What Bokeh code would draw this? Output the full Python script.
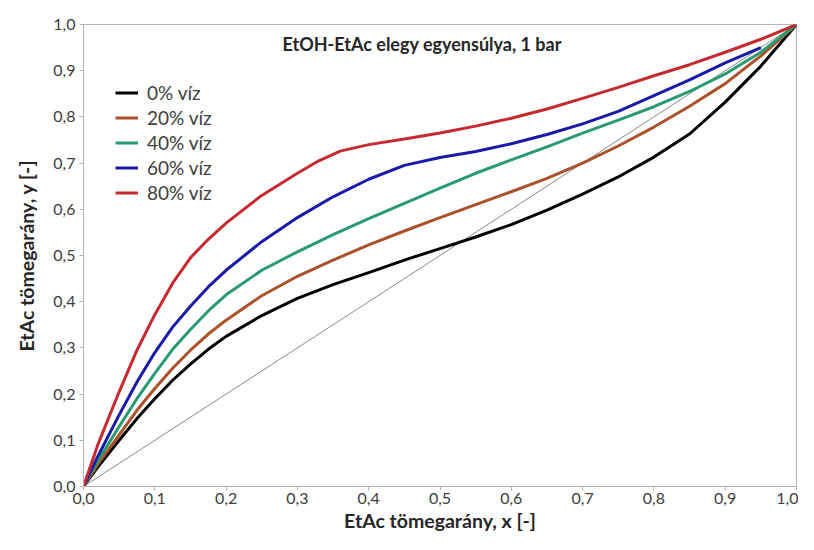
from bokeh.plotting import figure
from bokeh.models import Range1d, FixedTicker, Legend, LegendItem, Label
from bokeh.embed import file_html
from bokeh.resources import INLINE

# ---- data ----
X_STD = [0, 0.02, 0.05, 0.075, 0.1, 0.125, 0.15, 0.175, 0.2, 0.25, 0.3, 0.35, 0.4, 0.45, 0.5,
         0.55, 0.6, 0.65, 0.7, 0.75, 0.8, 0.85, 0.9, 0.95, 1.0]
Y_0 = [0, 0.042, 0.10, 0.147, 0.19, 0.23, 0.265, 0.297, 0.325, 0.37, 0.407, 0.437, 0.463, 0.49, 0.515,
       0.54, 0.567, 0.598, 0.633, 0.67, 0.713, 0.763, 0.832, 0.91, 1.0]
Y_20 = [0, 0.048, 0.112, 0.165, 0.212, 0.256, 0.295, 0.33, 0.36, 0.413, 0.455, 0.49, 0.523, 0.553, 0.582,
        0.61, 0.638, 0.667, 0.70, 0.737, 0.778, 0.823, 0.872, 0.932, 1.0]
Y_40 = [0, 0.055, 0.13, 0.19, 0.245, 0.297, 0.34, 0.38, 0.415, 0.468, 0.508, 0.545, 0.58, 0.613, 0.646,
        0.678, 0.707, 0.735, 0.765, 0.793, 0.822, 0.855, 0.893, 0.94, 1.0]
X_60 = [0, 0.02, 0.05, 0.075, 0.1, 0.125, 0.15, 0.175, 0.2, 0.25, 0.3, 0.35, 0.4, 0.45, 0.5,
        0.55, 0.6, 0.65, 0.7, 0.75, 0.8, 0.85, 0.9, 0.95]
Y_60 = [0, 0.065, 0.155, 0.226, 0.29, 0.345, 0.39, 0.432, 0.468, 0.53, 0.582, 0.627, 0.665, 0.695, 0.712,
        0.725, 0.742, 0.762, 0.785, 0.812, 0.846, 0.88, 0.917, 0.95]
X_80 = [0, 0.02, 0.05, 0.075, 0.1, 0.125, 0.15, 0.175, 0.2, 0.25, 0.3, 0.33, 0.36, 0.4, 0.45, 0.5,
        0.55, 0.6, 0.65, 0.7, 0.75, 0.8, 0.85, 0.9, 0.95, 1.0]
Y_80 = [0, 0.09, 0.205, 0.295, 0.372, 0.44, 0.495, 0.535, 0.57, 0.63, 0.678, 0.705, 0.726, 0.74, 0.752, 0.765,
        0.78, 0.797, 0.817, 0.84, 0.864, 0.889, 0.913, 0.94, 0.968, 1.0]
DIAG_X = [0, 1]
DIAG_Y = [0, 1]

SERIES_NAMES = ["0% víz", "20% víz", "40% víz", "60% víz", "80% víz"]
SERIES_COLORS = ["#000000", "#a9522b", "#2a9a70", "#1a1aa8", "#c62a30"]

TICK_VALUES = [0.0, 0.1, 0.2, 0.3, 0.4, 0.5, 0.6, 0.7, 0.8, 0.9, 1.0]
TICK_LABELS = ["0,0", "0,1", "0,2", "0,3", "0,4", "0,5", "0,6", "0,7", "0,8", "0,9", "1,0"]

TITLE = "EtOH-EtAc elegy egyensúlya, 1 bar"
X_LABEL = "EtAc tömegarány, x [-]"
Y_LABEL = "EtAc tömegarány, y [-]"

FONT = "Lato"
TXT = "#404040"

p = figure(width=798, height=534, output_backend="svg", toolbar_location=None,
           x_range=Range1d(0, 1), y_range=Range1d(0, 1),
           min_border_left=83, min_border_right=2, min_border_top=24, min_border_bottom=48)
p.background_fill_color = "white"
p.border_fill_color = "white"
p.outline_line_color = "#b4b4b4"
p.outline_line_width = 1
p.xgrid.visible = False
p.ygrid.visible = False

for ax, lab in ((p.xaxis[0], X_LABEL), (p.yaxis[0], Y_LABEL)):
    ax.ticker = FixedTicker(ticks=TICK_VALUES)
    ax.major_label_overrides = {v: l for v, l in zip(TICK_VALUES, TICK_LABELS)}
    ax.minor_tick_line_color = None
    ax.major_tick_in = 0
    ax.major_tick_out = 4
    ax.major_tick_line_color = "#b4b4b4"
    ax.axis_line_color = "#b4b4b4"
    ax.major_label_text_font = FONT
    ax.major_label_text_font_size = "16px"
    ax.major_label_text_color = TXT
    ax.axis_label = lab
    ax.axis_label_text_font = FONT
    ax.axis_label_text_font_size = "19.5px"
    ax.axis_label_text_font_style = "bold"
    ax.axis_label_text_color = "#262626"
p.xaxis[0].major_label_standoff = 2
p.xaxis[0].axis_label_standoff = 2
p.yaxis[0].major_label_standoff = 4
p.yaxis[0].axis_label_standoff = 12

p.line(DIAG_X, DIAG_Y, line_color="#8a8a8a", line_width=1)

renderers = []
for xs, ys, c in ((X_STD, Y_0, SERIES_COLORS[0]), (X_STD, Y_20, SERIES_COLORS[1]),
                  (X_STD, Y_40, SERIES_COLORS[2]), (X_60, Y_60, SERIES_COLORS[3]),
                  (X_80, Y_80, SERIES_COLORS[4])):
    renderers.append(p.line(xs, ys, line_color=c, line_width=3, line_join="round"))

legend = Legend(items=[LegendItem(label=n, renderers=[r]) for n, r in zip(SERIES_NAMES, renderers)],
                location=(32, 282), orientation="vertical")
legend.border_line_color = None
legend.background_fill_alpha = 0
legend.padding = 0
legend.margin = 0
legend.spacing = 2
legend.glyph_width = 23
legend.glyph_height = 23
legend.label_height = 23
legend.label_standoff = 9
legend.label_text_font = FONT
legend.label_text_font_size = "19px"
legend.label_text_color = TXT
legend.label_text_baseline = "middle"
p.add_layout(legend)

p.add_layout(Label(x=0.475, y=0.957, text=TITLE, text_align="center", text_baseline="middle",
                   text_font=FONT, text_font_style="bold", text_font_size="18px",
                   text_color="#262626"))

open("out.html", "w").write(file_html(p, INLINE))
